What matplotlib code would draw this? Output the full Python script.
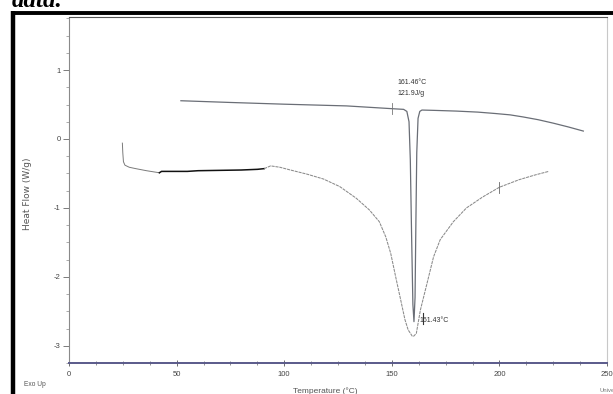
import numpy as np
import matplotlib
matplotlib.use("Agg")
import matplotlib.pyplot as plt
from matplotlib.lines import Line2D
from matplotlib.ticker import MultipleLocator

# First heating run (sample as received)
heat1_temp = [24.8, 25.0, 25.3, 26.0, 28.0, 31.0, 36.0, 42.0]
heat1_flow = [-0.06, -0.20, -0.33, -0.38, -0.41, -0.43, -0.46, -0.49]

# darker stretch of the first run
heat1b_temp = [42.0, 43.0, 55.0, 60.0, 80.0, 87.6, 90.7]
heat1b_flow = [-0.49, -0.47, -0.47, -0.46, -0.45, -0.44, -0.43]

heat1c_temp = [90.7, 93.7, 98.0, 102.9, 110.6, 118.2, 125.8, 133.5, 139.6, 144.2,
               147.2, 149.5, 151.8, 154.1, 156.1, 157.6, 159.5, 160.2, 161.4, 163.3,
               166.4, 169.4, 172.5, 178.6, 184.7, 192.3, 200.0, 209.2, 216.8, 222.9]
heat1c_flow = [-0.43, -0.39, -0.41, -0.45, -0.51, -0.58, -0.69, -0.86, -1.03, -1.20,
               -1.42, -1.66, -2.00, -2.33, -2.62, -2.77, -2.86, -2.86, -2.82, -2.48,
               -2.09, -1.71, -1.46, -1.20, -1.00, -0.84, -0.70, -0.59, -0.52, -0.47]

# Second heating run
heat2_temp = [52.0, 75.0, 100.0, 129.0, 150.0, 155.5, 157.0, 158.0, 158.6, 159.2,
              159.8, 160.3, 160.8, 161.2, 161.6, 162.2, 163.0, 164.0, 170.0, 180.0,
              190.0, 198.0, 205.0, 211.0, 218.0, 225.0, 232.0, 239.0]
heat2_flow = [0.555, 0.53, 0.505, 0.48, 0.44, 0.43, 0.40, 0.25, -0.30, -1.40,
              -2.40, -2.65, -2.30, -1.20, -0.20, 0.30, 0.40, 0.42, 0.415, 0.405,
              0.39, 0.37, 0.35, 0.32, 0.28, 0.23, 0.175, 0.115]

peak2_label = ["161.46°C", "121.9J/g"]
peak1_label = "161.43°C"

x_ticks = [0, 50, 100, 150, 200, 250]
y_ticks = [-3, -2, -1, 0, 1]

W, H = 613, 394
fig = plt.figure(figsize=(W / 100, H / 100), dpi=100)
fig.patch.set_facecolor("white")

ax = fig.add_axes([69 / W, 1 - 363 / H, (607 - 69) / W, (363 - 17) / H])
ax.set_xlim(0, 247)
ax.set_ylim(-3.25, 1.77)

narrow = ["Liberation Sans Narrow", "Liberation Sans", "DejaVu Sans"]

ax.plot(heat1_temp, heat1_flow, color="#7a7a7a", lw=0.7)
ax.plot(heat1b_temp, heat1b_flow, color="#111111", lw=1.1)
ax.plot(heat1c_temp, heat1c_flow, color="#8a8a8a", lw=0.75, ls=(0, (3, 0.8)))
ax.plot(heat2_temp, heat2_flow, color="#6a6e76", lw=0.9)

# analysis markers
ax.plot([150, 150], [0.36, 0.52], color="#777777", lw=0.6)
ax.plot([200, 200], [-0.62, -0.78], color="#666666", lw=0.6)
ax.plot([164.5, 164.5], [-2.53, -2.68], color="#333333", lw=0.8)

ax.text(152.5, 0.80, peak2_label[0], fontsize=5.0, family=narrow, color="#333333")
ax.text(152.5, 0.64, peak2_label[1], fontsize=5.0, family=narrow, color="#333333")
ax.text(162.8, -2.66, peak1_label, fontsize=5.0, family=narrow, color="#333333")

for side in ["top", "right", "left", "bottom"]:
    ax.spines[side].set_linewidth(0.8)
ax.spines["top"].set_color("#555555")
ax.spines["right"].set_color("#c8c8c8")
ax.spines["left"].set_color("#8a8a8a")
ax.spines["left"].set_linestyle((0, (1, 1)))
ax.spines["bottom"].set_color("#5a5a8a")
ax.spines["bottom"].set_linewidth(1.4)

ax.set_xticks(x_ticks)
ax.set_yticks(y_ticks)
ax.xaxis.set_minor_locator(MultipleLocator(12.5))
ax.yaxis.set_minor_locator(MultipleLocator(0.25))
ax.set_xticklabels([str(v) for v in x_ticks], fontsize=5.5, family=narrow, color="#444444")
ax.set_yticklabels([str(v) for v in y_ticks], fontsize=5.5, family=narrow, color="#444444")
ax.tick_params(axis="y", which="major", direction="out", length=4, width=0.6, color="#666666", pad=2)
ax.tick_params(axis="y", which="minor", direction="out", length=2, width=0.5, color="#888888")
ax.tick_params(axis="x", which="major", direction="inout", length=4, width=0.6, color="#555555", pad=4)
ax.tick_params(axis="x", which="minor", direction="inout", length=3, width=0.5, color="#666666")

ax.set_ylabel("Heat Flow (W/g)", fontsize=6.5, color="#555555", labelpad=12)
ax.yaxis.set_label_coords(-0.068, 0.49)

fig.text(35 / W, 1 - 385 / H, "Exo Up", fontsize=4.8, family=narrow, color="#555555",
         ha="center", va="center")
fig.text(325 / W, 1 - 391 / H, "Temperature (°C)", fontsize=6.0, family=narrow,
         color="#555555", ha="center", va="center")
fig.text(600 / W, 1 - 391 / H, "Universal", fontsize=4.2, family=narrow, color="#777777",
         ha="left", va="center")

# page border and caption above the figure
fig.add_artist(Line2D([12.5 / W, 12.5 / W], [0, 1 - 11 / H], transform=fig.transFigure,
                      color="black", lw=3.2, solid_capstyle="butt"))
fig.add_artist(Line2D([10.5 / W, 1], [1 - 12.8 / H, 1 - 12.8 / H], transform=fig.transFigure,
                      color="black", lw=2.8, solid_capstyle="butt"))
fig.text(12 / W, 1 - 7 / H, "data.", fontsize=18, family="Liberation Serif",
         style="italic", weight="bold", color="black", ha="left", va="baseline")

fig.savefig("out.png", dpi=100, facecolor="white")
